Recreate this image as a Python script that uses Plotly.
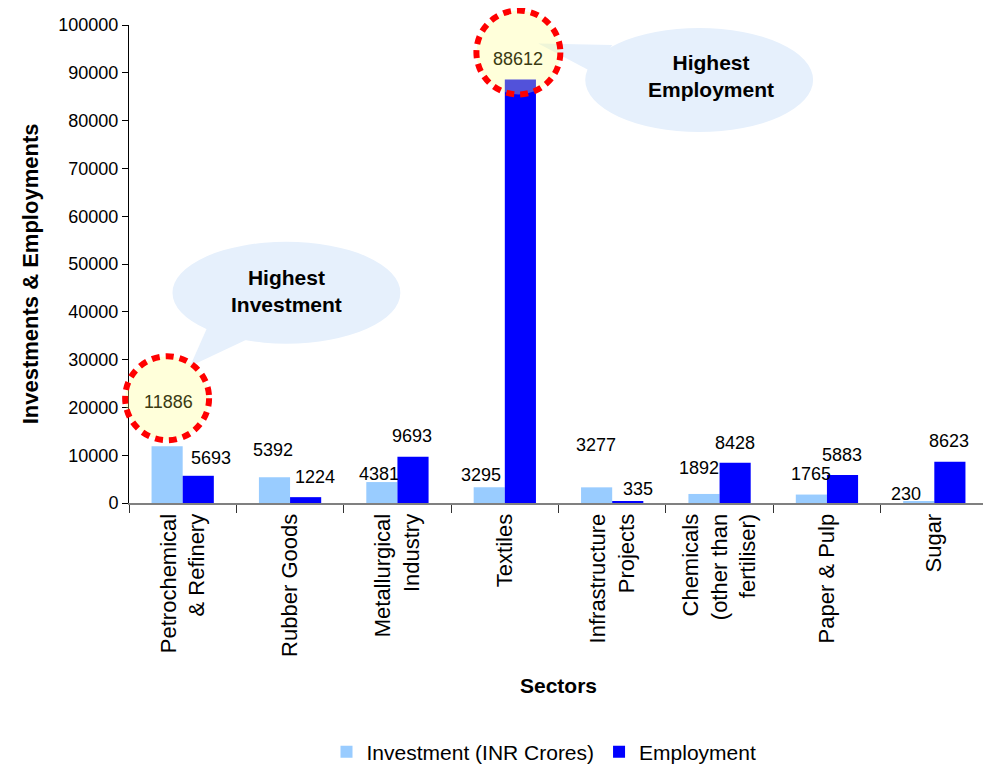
import plotly.graph_objects as go

# ---------------- data ----------------
categories = ["Petrochemical<br>& Refinery", "Rubber Goods", "Metallurgical<br>Industry",
              "Textiles", "Infrastructure<br>Projects", "Chemicals<br>(other than<br>fertiliser)",
              "Paper & Pulp", "Sugar"]
investment = [11886, 5392, 4381, 3295, 3277, 1892, 1765, 230]
employment = [5693, 1224, 9693, 88612, 335, 8428, 5883, 8623]
y_ticks = [0, 10000, 20000, 30000, 40000, 50000, 60000, 70000, 80000, 90000, 100000]

# label offsets (pixels) relative to each bar's top centre
inv_xshift = [1, -1.5, -3, -8, -1, -4.5, -0.5, -13]
inv_yshift = [44, 27, 8, 12, 42, 26, 21, 8]
emp_xshift = [13, 9.5, -1, -2, 10.5, 0, -0.5, -1]
emp_yshift = [17.5, 20, 21, 20, 12, 20, 20, 20.5]

FONT = "Arial, Liberation Sans, sans-serif"
OFF = 8                      # page body margin in the browser
W, H = 991 - OFF, 767 - OFF  # figure size
# plot area in screenshot pixels
L, R, T, B = 128.5, 988, 25, 503.5
YMAX = 100000
BARGAP = 0.42
LIGHT = "#99CCFF"
DARK = "#0000FF"

ncat = len(categories)
catw = (R - L) / ncat
half = (1 - BARGAP) * catw / 4


def px2x(p):
    return (p - L) / (R - L)


def py2y(p):
    return (B - p) / (B - T)


def bar_px(i, side):
    return L + catw * (i + 0.5) + side * half


def val_py(v):
    return B - v * (B - T) / YMAX


fig = go.Figure()
fig.add_trace(go.Bar(x=categories, y=investment, name="Investment (INR Crores)",
                     marker=dict(color=LIGHT, line=dict(width=0))))
fig.add_trace(go.Bar(x=categories, y=employment, name="Employment",
                     marker=dict(color=DARK, line=dict(width=0))))

annotations = []
shapes = []

imax = investment.index(max(investment))
emax = employment.index(max(employment))


def callout(cx, cy, rx, ry, tail):
    shapes.append(dict(type="circle", xref="paper", yref="paper",
                       x0=px2x(cx - rx), x1=px2x(cx + rx), y0=py2y(cy + ry), y1=py2y(cy - ry),
                       fillcolor="#E6F0FC", line=dict(width=0), layer="above"))
    pts = " L".join(f"{px2x(a)},{py2y(b)}" for a, b in tail)
    shapes.append(dict(type="path", xref="paper", yref="paper", path="M" + pts + " Z",
                       fillcolor="#E6F0FC", line=dict(width=0), layer="above"))


def text_at(px, py, text, size, angle=0):
    annotations.append(dict(xref="paper", yref="paper", x=px2x(px), y=py2y(py),
                            xanchor="center", yanchor="middle", text=text, textangle=angle,
                            showarrow=False, font=dict(family=FONT, size=size, color="black")))


ix, iy = bar_px(imax, -1) + inv_xshift[imax], val_py(investment[imax]) - inv_yshift[imax]
ex, ey = bar_px(emax, 1) + emp_xshift[emax], val_py(employment[emax]) - emp_yshift[emax]
callout(286, 293, 114, 51, [(ix + 22, iy - 36), (208, 325), (248, 339)])
callout(699, 80, 114, 52, [(ex + 20, ey - 16), (612, 45), (592, 72)])
text_at(286, 291, "<b>Highest<br>Investment</b>", 21)
text_at(711, 76, "<b>Highest<br>Employment</b>", 21)


def highlight(cx, cy):
    r = 42
    shapes.append(dict(type="circle", xref="paper", yref="paper",
                       x0=px2x(cx - r), x1=px2x(cx + r), y0=py2y(cy + r), y1=py2y(cy - r),
                       fillcolor="rgba(255,255,140,0.32)",
                       line=dict(color="#FF0000", width=6, dash="8px,6px"), layer="above"))


highlight(ix - 1, iy - 4)
highlight(ex, ey - 7)

for i, c in enumerate(categories):
    annotations.append(dict(x=c, y=investment[i], xref="x", yref="y", text=str(investment[i]),
                            xanchor="center", yanchor="middle",
                            xshift=-half + inv_xshift[i], yshift=inv_yshift[i], showarrow=False,
                            font=dict(family=FONT, size=18,
                                      color="#3a3a12" if i == imax else "black")))
    annotations.append(dict(x=c, y=employment[i], xref="x", yref="y", text=str(employment[i]),
                            xanchor="center", yanchor="middle",
                            xshift=half + emp_xshift[i], yshift=emp_yshift[i], showarrow=False,
                            font=dict(family=FONT, size=18,
                                      color="#3a3a12" if i == emax else "black")))

text_at(30, 274, "<b>Investments & Employments</b>", 22, angle=-90)
text_at(558, 686, "<b>Sectors</b>", 21)

fig.update_layout(
    width=W, height=H,
    margin=dict(l=L - OFF, r=W - (R - OFF), t=T - OFF, b=H - (B - OFF), pad=0,
                autoexpand=False),
    paper_bgcolor="white", plot_bgcolor="white",
    barmode="group", bargap=BARGAP, bargroupgap=0,
    font=dict(family=FONT, size=17, color="black"),
    showlegend=True,
    legend=dict(orientation="h", x=(544 - OFF) / W, xanchor="center", xref="container",
                y=(H - (752 - OFF)) / H, yanchor="middle", yref="container",
                font=dict(family=FONT, size=21, color="black"), traceorder="normal",
                itemsizing="constant", itemwidth=30, bgcolor="rgba(0,0,0,0)"),
    xaxis=dict(showline=True, linecolor="#808080", linewidth=2, ticks="outside",
               tickson="boundaries", ticklen=8, tickcolor="#333333", tickangle=-90,
               tickfont=dict(family=FONT, size=22, color="black"), showgrid=False,
               zeroline=False, range=[-0.5, ncat - 0.5], automargin=False),
    yaxis=dict(range=[0, YMAX], tickvals=y_ticks, ticktext=[str(v) for v in y_ticks],
               showline=True, linecolor="black", linewidth=1, ticks="outside", ticklen=6,
               tickcolor="black", tickfont=dict(family=FONT, size=18, color="black"),
               showgrid=False, zeroline=False, automargin=False),
    annotations=annotations, shapes=shapes,
)

fig.write_html("out.html")
